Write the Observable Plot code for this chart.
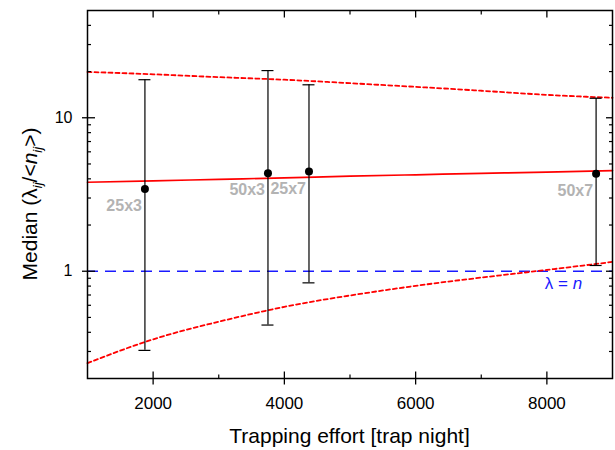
<!DOCTYPE html>
<html><head><meta charset="utf-8">
<script src="https://cdn.jsdelivr.net/npm/d3@7"></script>
<script src="https://cdn.jsdelivr.net/npm/@observablehq/plot@0.6"></script>
<style>html,body{margin:0;padding:0;background:#fff} #chart svg{display:block}</style>
</head><body><div id="chart"></div>
<script>
// Data
const designs = ["25x3", "50x3", "25x7", "50x7"];
const effort  = [1875, 3750, 4375, 8750];
const median  = [3.44, 4.35, 4.46, 4.31];
const lower   = [0.305, 0.446, 0.84, 1.09];
const upper   = [17.7, 20.3, 16.4, 13.4];

const fitEffort = [1000, 2000, 3000, 4000, 5000, 6000, 7000, 8000, 9000];
const fitMedian = [3.80, 3.88, 3.97, 4.06, 4.16, 4.25, 4.34, 4.43, 4.53];
const fitUpper  = [19.9, 19.2, 18.4, 17.7, 16.8, 15.9, 15.0, 14.1, 13.5];
const fitLower  = [0.252, 0.360, 0.469, 0.586, 0.695, 0.803, 0.909, 1.02, 1.15];

const refLevel = [1];
const refLabelEffort = 8260;

const xTicks = [2000, 4000, 6000, 8000];
const xMinorTicks = [3000, 5000, 7000];
const yTicks = [1, 10];
const yMinorTicks = [0.3, 0.4, 0.5, 0.6, 0.7, 0.8, 0.9, 2, 3, 4, 5, 6, 7, 8, 9, 20, 30, 40];

const pts = designs.map((d, i) => ({design: d, effort: effort[i], median: median[i], lower: lower[i], upper: upper[i]}));
const fit = fitEffort.map((e, i) => ({effort: e, median: fitMedian[i], upper: fitUpper[i], lower: fitLower[i]}));

const FONT = '"Liberation Sans", Arial, Helvetica, sans-serif';
const red = "#ff0000";
const blue = "#1a1aff";

const plot = Plot.plot({
  width: 615, height: 450,
  marginLeft: 87, marginRight: 3, marginTop: 10, marginBottom: 72,
  style: {fontFamily: FONT, fontSize: "16px", color: "#000", background: "#fff", overflow: "visible"},
  x: {domain: [1000, 9000]},
  y: {type: "log", domain: [0.2, 50]},
  marks: [
    Plot.ruleY(refLevel, {stroke: blue, strokeWidth: 1.5, strokeDasharray: "11,7"}),
    Plot.line(fit, {x: "effort", y: "upper", stroke: red, strokeWidth: 1.8, strokeDasharray: "4,3", curve: "natural"}),
    Plot.line(fit, {x: "effort", y: "lower", stroke: red, strokeWidth: 1.8, strokeDasharray: "4,3", curve: "natural"}),
    Plot.line(fit, {x: "effort", y: "median", stroke: red, strokeWidth: 1.7, curve: "natural"}),
    Plot.ruleX(pts, {x: "effort", y1: "lower", y2: "upper", stroke: "black", strokeWidth: 1.2}),
    Plot.ruleY(pts, {y: "upper", x1: "effort", x2: "effort", insetLeft: -6, insetRight: -6, stroke: "black", strokeWidth: 1.2}),
    Plot.ruleY(pts, {y: "lower", x1: "effort", x2: "effort", insetLeft: -6, insetRight: -6, stroke: "black", strokeWidth: 1.2}),
    Plot.dot(pts, {x: "effort", y: "median", r: 4, fill: "black", stroke: null}),
    Plot.text(pts, {x: "effort", y: "median", text: "design", textAnchor: "end", dx: -3, dy: 17, fill: "#b3b3b3", fontWeight: "bold", fontSize: 16}),
    Plot.frame({stroke: "black", strokeWidth: 1.5}),
    // x axis: labels, crossing major ticks, inner minor ticks, mirrored top ticks
    Plot.axisX({ticks: xTicks, tickSize: 0, tickPadding: 18, label: null, tickFormat: d => String(d), fontSize: 17}),
    Plot.axisX({ticks: xTicks, tickSize: 13, dy: -6.5, fill: "none", label: null, strokeWidth: 1.3}),
    Plot.axisX({ticks: xMinorTicks, tickSize: 3.5, dy: -3.5, fill: "none", label: null, strokeWidth: 1.2}),
    Plot.axisX({anchor: "top", ticks: xTicks, tickSize: 6.5, dy: 6.5, fill: "none", label: null, strokeWidth: 1.3}),
    Plot.axisX({anchor: "top", ticks: xMinorTicks, tickSize: 3.5, dy: 3.5, fill: "none", label: null, strokeWidth: 1.2}),
    // y axis
    Plot.axisY({ticks: yTicks, tickSize: 0, tickPadding: 15, label: null, tickFormat: d => String(d)}),
    Plot.axisY({ticks: yTicks, tickSize: 13, dx: 8, fill: "none", label: null, strokeWidth: 1.3}),
    Plot.axisY({ticks: yMinorTicks, tickSize: 4, dx: 4, fill: "none", label: null, strokeWidth: 1.2}),
    Plot.axisY({anchor: "right", ticks: yTicks, tickSize: 7, dx: -7, fill: "none", label: null, strokeWidth: 1.3}),
    Plot.axisY({anchor: "right", ticks: yMinorTicks, tickSize: 4, dx: -4, fill: "none", label: null, strokeWidth: 1.2})
  ]
});

const svg = d3.select(plot);
const xs = plot.scale("x"), ys = plot.scale("y");
const xMid = (xs.range[0] + xs.range[1]) / 2;

// x axis title
svg.append("text")
  .attr("x", xMid).attr("y", 443)
  .attr("text-anchor", "middle")
  .style("font-family", FONT).style("font-size", "21px").attr("fill", "#000")
  .text("Trapping effort [trap night]");

// y axis title with subscripts
const yt = svg.append("text")
  .attr("transform", "translate(37,204) rotate(-90)")
  .attr("text-anchor", "middle")
  .style("font-family", FONT).style("font-size", "21px").attr("fill", "#000");
yt.append("tspan").text("Median (λ");
yt.append("tspan").attr("dy", 5).style("font-size", "13px").style("font-style", "italic").text("ij");
yt.append("tspan").attr("dy", -5).text("/<");
yt.append("tspan").style("font-style", "italic").text("n");
yt.append("tspan").attr("dy", 5).style("font-size", "13px").style("font-style", "italic").text("ij");
yt.append("tspan").attr("dy", -5).text(">)");

// reference line label
const rl = svg.append("text")
  .attr("x", xs.apply(refLabelEffort)).attr("y", ys.apply(refLevel[0]) + 18)
  .attr("text-anchor", "middle")
  .style("font-family", FONT).style("font-size", "17px").attr("fill", blue);
rl.append("tspan").text("λ = ");
rl.append("tspan").style("font-style", "italic").text("n");

document.getElementById("chart").append(plot);
</script>
</body></html>
